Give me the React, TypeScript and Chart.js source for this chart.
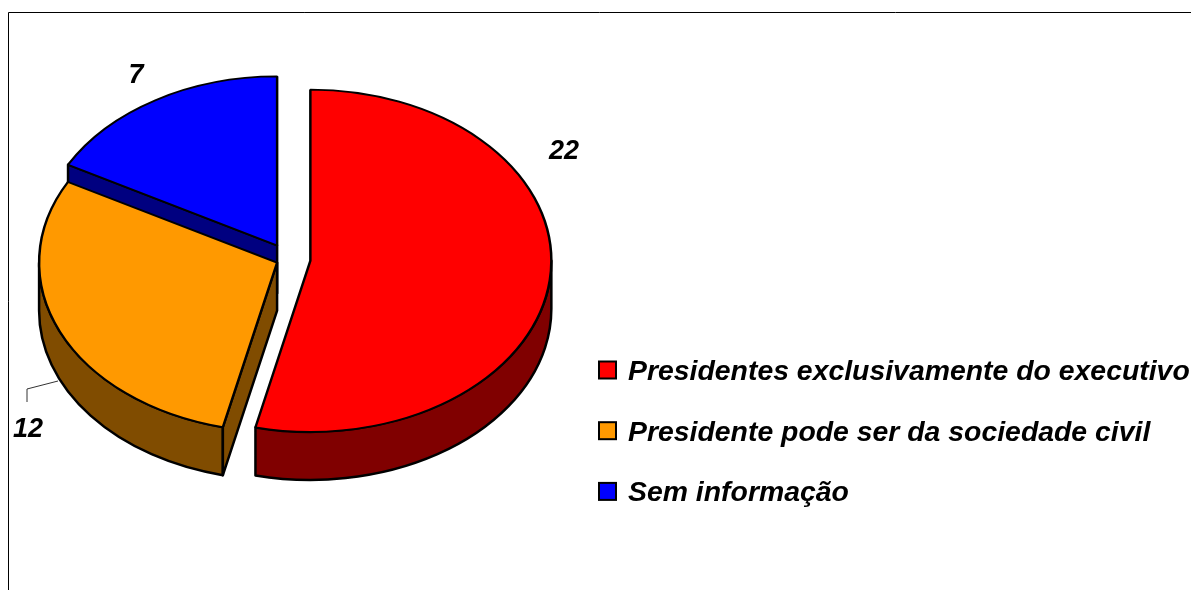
import React, { useEffect, useRef } from "react";
import { Chart, registerables } from "chart.js";

Chart.register(...registerables);

const categories = [
  "Presidentes exclusivamente do executivo",
  "Presidente pode ser da sociedade civil",
  "Sem informação",
];
const counts = [22, 12, 7];
const topColors = ["#ff0000", "#ff9900", "#0000ff"];
const wallColors = ["#800000", "#804c00", "#000080"];
const explode = [88, 50, 89];
const sliceRadii = [241, 238, 238];

const WIDTH = 1191;
const HEIGHT = 590;
const CENTER_X = 288.5;
const CENTER_Y = 259;
const SQUASH = 0.71;
const DEPTH = 48;
const VALUE_FONT = 'italic bold 27px "Liberation Sans", Arial, sans-serif';
const LEGEND_FONT = 'italic bold 28.4px "Liberation Sans", Arial, sans-serif';
const LABEL_SHIFT = [
  { x: 275.5, y: -107.5 },
  { x: -260.5, y: 170.5 },
  { x: -152.5, y: -183.5 },
];

const pie3d = {
  id: "pie3d",
  // Chart.js moves an arc by offset / 4, grows its radius and trims its angles;
  // undo the last two so that each slice keeps its true radius and sweep.
  afterUpdate(chart: any) {
    chart.getDatasetMeta(0).data.forEach((el: any, i: number) => {
      const off = (el.options.offset || 0) / 4;
      const sweep = el.endAngle - el.startAngle;
      const growth = off * (1 - Math.sin(Math.min(Math.PI, sweep)));
      const trim = growth / (2 * Math.PI * sliceRadii[i]);
      el.trueStart = el.startAngle;
      el.trueEnd = el.endAngle;
      el.outerRadius = sliceRadii[i] - growth;
      el.startAngle -= trim;
      el.endAngle += trim;
    });
  },
  beforeDraw(chart: any) {
    const { ctx } = chart;
    ctx.save();
    ctx.fillStyle = "#ffffff";
    ctx.fillRect(0, 0, WIDTH, HEIGHT);
    ctx.strokeStyle = "#000000";
    ctx.lineWidth = 1;
    ctx.beginPath();
    ctx.moveTo(8.5, HEIGHT);
    ctx.lineTo(8.5, 12.5);
    ctx.lineTo(WIDTH, 12.5);
    ctx.stroke();
    ctx.restore();
  },
  beforeDatasetsDraw(chart: any) {
    const { ctx } = chart;
    const arcs = chart.getDatasetMeta(0).data;
    ctx.save();
    ctx.lineWidth = 2.5;
    ctx.lineJoin = "round";
    ctx.strokeStyle = "#000000";
    for (let i = arcs.length - 1; i >= 0; i--) {
      const el = arcs[i];
      const mid = (el.trueStart + el.trueEnd) / 2;
      const off = (el.options.offset || 0) / 4;
      const cx = el.x + Math.cos(mid) * off;
      const cy = el.y + Math.sin(mid) * off * SQUASH;
      const rx = sliceRadii[i];
      const ry = rx * SQUASH;
      ctx.fillStyle = wallColors[i];
      const from = Math.max(el.trueStart, 0);
      const to = Math.min(el.trueEnd, Math.PI);
      if (to > from) {
        ctx.beginPath();
        ctx.ellipse(cx, cy, rx, ry, 0, from, to);
        ctx.ellipse(cx, cy + DEPTH, rx, ry, 0, to, from, true);
        ctx.closePath();
        ctx.fill();
        ctx.stroke();
      }
      const edges = [
        { a: el.trueStart, show: Math.cos(el.trueStart) < -1e-6 },
        { a: el.trueEnd, show: Math.cos(el.trueEnd) > 1e-6 },
      ];
      for (const edge of edges) {
        if (!edge.show) continue;
        const ex = cx + Math.cos(edge.a) * rx;
        const ey = cy + Math.sin(edge.a) * ry;
        ctx.beginPath();
        ctx.moveTo(cx, cy);
        ctx.lineTo(ex, ey);
        ctx.lineTo(ex, ey + DEPTH);
        ctx.lineTo(cx, cy + DEPTH);
        ctx.closePath();
        ctx.fill();
        ctx.stroke();
      }
    }
    ctx.restore();
    ctx.save();
    ctx.translate(0, CENTER_Y);
    ctx.scale(1, SQUASH);
    ctx.translate(0, -CENTER_Y);
  },
  afterDatasetsDraw(chart: any) {
    const { ctx } = chart;
    ctx.restore();
    const arcs = chart.getDatasetMeta(0).data;
    const values = chart.data.datasets[0].data;
    ctx.save();
    ctx.strokeStyle = "#333333";
    ctx.lineWidth = 1;
    ctx.beginPath();
    ctx.moveTo(58, 381);
    ctx.lineTo(27, 389);
    ctx.lineTo(27, 402);
    ctx.stroke();

    ctx.font = VALUE_FONT;
    ctx.fillStyle = "#000000";
    ctx.textBaseline = "middle";
    ctx.textAlign = "center";
    arcs.forEach((el: any, i: number) => {
      ctx.fillText(String(values[i]), el.x + LABEL_SHIFT[i].x, el.y + LABEL_SHIFT[i].y);
    });

    ctx.font = LEGEND_FONT;
    ctx.textAlign = "left";
    chart.data.labels.forEach((label: string, i: number) => {
      const y = 370 + i * 60.7;
      ctx.fillStyle = topColors[i];
      ctx.strokeStyle = "#000000";
      ctx.lineWidth = 2;
      ctx.fillRect(599, y - 8.5, 17, 17);
      ctx.strokeRect(599, y - 8.5, 17, 17);
      ctx.fillStyle = "#000000";
      ctx.fillText(label, 628, y + 2);
    });
    ctx.restore();
  },
};

export default function App() {
  const ref = useRef<HTMLCanvasElement | null>(null);
  useEffect(() => {
    const chart = new Chart(ref.current as HTMLCanvasElement, {
      type: "pie",
      data: {
        labels: categories,
        datasets: [
          {
            data: counts,
            backgroundColor: topColors,
            borderColor: "#000000",
            borderWidth: 2.5,
            offset: explode,
            radius: sliceRadii[0],
            clip: false,
          } as any,
        ],
      },
      options: {
        responsive: false,
        animation: false,
        devicePixelRatio: 1,
        layout: {
          padding: {
            left: 0,
            top: 0,
            right: WIDTH - 2 * CENTER_X,
            bottom: HEIGHT - 2 * CENTER_Y,
          },
        },
        plugins: {
          legend: { display: false },
          tooltip: { enabled: false },
        },
      },
      plugins: [pie3d],
    });
    return () => chart.destroy();
  }, []);
  return (
    <div style={{ position: "fixed", left: 0, top: 0, width: WIDTH, height: HEIGHT, background: "#fff" }}>
      <canvas ref={ref} width={WIDTH} height={HEIGHT} style={{ display: "block" }} />
    </div>
  );
}
